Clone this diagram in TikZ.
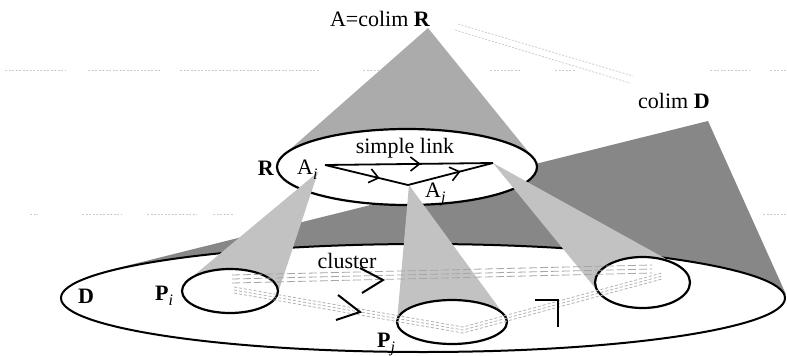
\documentclass[tikz,border=0pt]{standalone}
\usepackage{fontspec}
\setmainfont{Liberation Serif}
\usetikzlibrary{arrows.meta,decorations.markings}
\newcommand\mysub[1]{\raisebox{-5pt}{\fontsize{16}{16}\selectfont\itshape #1}}
\begin{document}
\begin{tikzpicture}[x=1pt,y=-1pt,
  lbl/.style={inner sep=0pt, font=\fontsize{22}{24}\selectfont},
  topcone/.style={fill=black!33},
  darkcone/.style={fill=black!47},
  lowcone/.style={fill=black!24},
  ring/.style={draw=black, line width=2.2pt, fill=white},
  link/.style={line width=1.8pt},
  midarrow/.style={postaction={decorate}, decoration={markings, mark=at position #1 with {\arrow{Straight Barb[length=9pt,width=14pt,line width=1.6pt]}}}},
  clink/.style={draw=black!35, line width=0.8pt, dash pattern=on 8pt off 3pt},
  clinkb/.style={draw=black!30, line width=0.8pt, dash pattern=on 3pt off 2pt},
  chev/.style={line width=2pt},
  scan/.style={draw=black!20, line width=0.8pt, dash pattern=on 2pt off 1.5pt}
]
\useasboundingbox (0,0) rectangle (787,356);
% faint scan lines
\foreach \a/\b in {5/65,88/160,180/320,363/403,490/520,555/575,710/750,770/787}
  \draw[scan] (\a,70) -- (\b,70);
\foreach \a/\b in {30/38,82/122,147/197,213/233,763/787}
  \draw[scan] (\a,214) -- (\b,214);
\draw[scan] (458,24) -- (633,76);
\draw[scan] (455,30) -- (630,83);
% cones
\coordinate (apexD) at (708,121);
\coordinate (apexR) at (428,28);
\fill[darkcone] (apexD) -- (786,294.4) -- (108,270.4) -- cycle;
\fill[topcone] (apexR) -- (533.5,158.2) -- (283.6,155) -- cycle;
% big ellipses
\coordinate (Rc) at (407,167);
\coordinate (Dc) at (423,298);
\draw[ring] (Rc) ellipse [x radius=130pt, y radius=38pt];
\draw[ring, line width=2pt] (Dc) ellipse [x radius=362pt, y radius=54pt];
% lower cones
\coordinate (Ai) at (325,165);
\coordinate (Aj) at (408,185);
\coordinate (Ak) at (493,163);
\fill[lowcone] (318,172) -- (277.5,294.3) -- (188,280.4) -- cycle;
\fill[lowcone] (409,185) -- (504.8,315.8) -- (397,321.2) -- cycle;
\fill[lowcone] (Ak) -- (676.3,264.6) -- (599.1,292.9) -- cycle;
% small ellipses
\coordinate (Pic) at (230,291);
\coordinate (Pjc) at (452,322);
\coordinate (Pkc) at (642.5,282.5);
\draw[ring] (Pic) ellipse [x radius=48pt, y radius=22pt];
\draw[ring] (Pjc) ellipse [x radius=55pt, y radius=22pt];
\draw[ring] (Pkc) ellipse [x radius=47.5pt, y radius=25.5pt];
% links in R
\draw[link, midarrow=0.57] (Ai) -- (Ak);
\draw[link, midarrow=0.66] (Ai) -- (Aj);
\draw[link, midarrow=0.62] (Aj) -- (Ak);
% cluster links in D
\coordinate (Pi1) at (232,279);
\coordinate (Pk1) at (652,269);
\coordinate (Pi2) at (234,290);
\coordinate (Pj2) at (463,330);
\coordinate (Pk2) at (662,276);
\foreach \d in {-4,0,4}
  \draw[clink] ([yshift=\d pt]Pi1) -- ([yshift=\d pt]Pk1);
\foreach \d in {-3,0,3}
  \draw[clinkb] ([yshift=\d pt]Pi2) -- ([yshift=\d pt]Pj2) -- ([yshift=\d pt]Pk2);
\draw[chev] (360,268) -- (383,280) -- (362,293);
\draw[chev] (338,295) -- (360,312) -- (336,320);
\draw[chev] (535,300) -- (558,300) -- (558,327);
% labels
\node[lbl, anchor=base] (tA) at (380,26) {A=colim \textbf{R}};
\node[lbl, anchor=base west] (tD) at (638,108) {colim \textbf{D}};
\node[lbl, anchor=base] (tsl) at (405,153) {simple link};
\node[lbl, anchor=base] (tR) at (266,175) {\textbf{R}};
\node[lbl, anchor=base west] (tAi) at (297,174) {A\mysub{i}};
\node[lbl, anchor=base west] (tAj) at (425,197) {A\mysub{j}};
\node[lbl, anchor=base] (tDD) at (86,303) {\textbf{D}};
\node[lbl, anchor=base west] (tPi) at (155,300) {\textbf{P}\mysub{i}};
\node[lbl, anchor=base] (tcl) at (347,268) {cluster};
\node[lbl, anchor=base west] (tPj) at (377,347) {\textbf{P}\mysub{j}};
\end{tikzpicture}
\end{document}
